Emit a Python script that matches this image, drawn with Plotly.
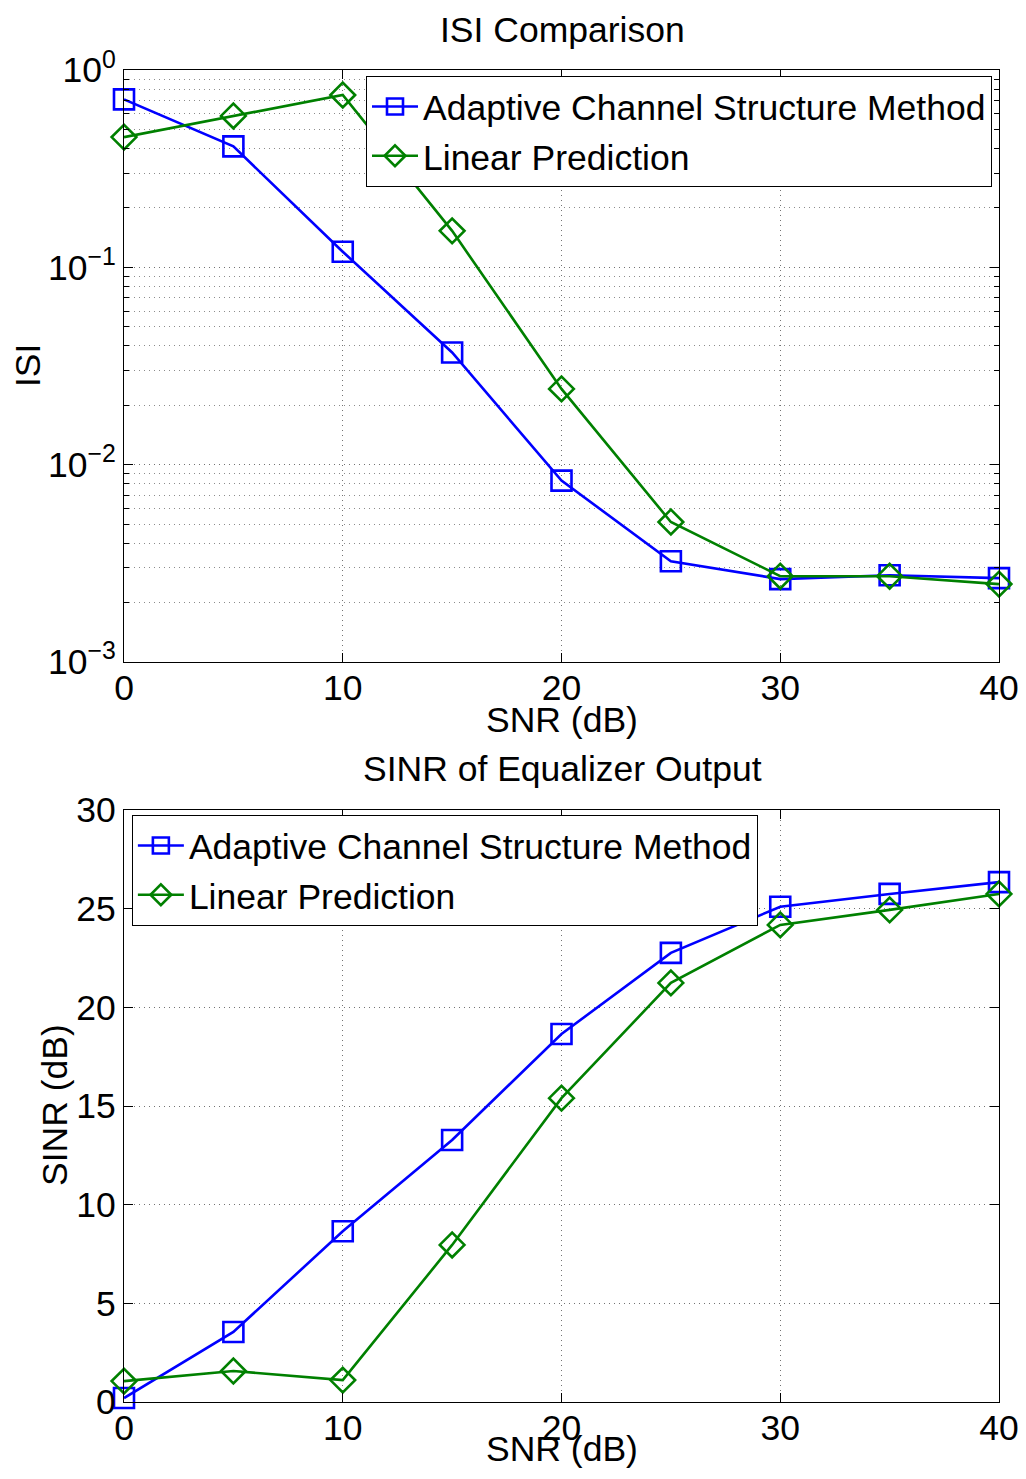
import plotly.graph_objects as go

snr = [0, 5, 10, 15, 20, 25, 30, 35, 40]

isi_acsm = [0.71, 0.41, 0.12, 0.037, 0.0083, 0.00324, 0.00263, 0.00275, 0.00266]
isi_lp = [0.457, 0.585, 0.747, 0.153, 0.0242, 0.00512, 0.00272, 0.00272, 0.00248]

sinr_acsm = [0.2, 3.55, 8.65, 13.28, 18.65, 22.76, 25.1, 25.75, 26.35]
sinr_lp = [1.06, 1.57, 1.11, 7.96, 15.4, 21.24, 24.18, 24.94, 25.75]

names = ["Adaptive Channel Structure Method", "Linear Prediction"]
x_ticks = [0, 10, 20, 30, 40]
isi_tickvals = [1e-3, 1e-2, 1e-1, 1]
isi_ticktext = ["10<sup>−3</sup>", "10<sup>−2</sup>", "10<sup>−1</sup>", "10<sup>0</sup>"]
isi_minor = [m * 10 ** e for e in (-3, -2, -1) for m in range(2, 10)]
sinr_ticks = [0, 5, 10, 15, 20, 25, 30]

FONT = "Liberation Sans, Arial, Helvetica, sans-serif"
FS = 35.5
BLUE = "#0000FF"
GREEN = "#008000"

# page body adds an 8px margin; keep the figure inside the window without scrollbars
OFF = 8
W, H = 1010, 1460
PLOT_L, PLOT_R = 124, 999      # page px
PLOT_T = 70
PLOT_H = 1332

fig = go.Figure()

def add_pair(y1, y2, xa, ya, legend):
    fig.add_trace(go.Scatter(
        x=snr, y=y1, name=names[0], mode="lines+markers",
        line=dict(color=BLUE, width=2.6),
        marker=dict(symbol="square-open", size=20, color=BLUE, line=dict(width=2.6, color=BLUE)),
        xaxis=xa, yaxis=ya, legend=legend, cliponaxis=False))
    fig.add_trace(go.Scatter(
        x=snr, y=y2, name=names[1], mode="lines+markers",
        line=dict(color=GREEN, width=2.6),
        marker=dict(symbol="diamond-open", size=19, color=GREEN, line=dict(width=2.6, color=GREEN)),
        xaxis=xa, yaxis=ya, legend=legend, cliponaxis=False))

add_pair(isi_acsm, isi_lp, "x", "y", "legend")
add_pair(sinr_acsm, sinr_lp, "x2", "y2", "legend2")

grid = dict(showgrid=True, gridcolor="rgba(0,0,0,0.55)", gridwidth=1, griddash="1px,4px")
axis_common = dict(showline=True, linecolor="black", linewidth=1.3, mirror="ticks",
                   ticks="inside", ticklen=9, tickcolor="black", zeroline=False, automargin=False,
                   ticklabeloverflow="allow",
                   tickfont=dict(family=FONT, size=FS, color="black"), **grid)

fig.update_layout(
    width=W, height=H,
    margin=dict(l=PLOT_L - OFF, r=W - (PLOT_R - OFF), t=PLOT_T - OFF, b=H - (PLOT_T - OFF) - PLOT_H),
    paper_bgcolor="white", plot_bgcolor="white",
    font=dict(family=FONT, size=FS, color="black"),
    xaxis=dict(domain=[0, 1], anchor="y", range=[0, 40], tickmode="array", tickvals=x_ticks,
               ticklabelstandoff=-6, **axis_common),
    yaxis=dict(domain=[0.5556, 1], anchor="x", type="log", range=[-3, 0], tickmode="array",
               tickvals=isi_tickvals, ticktext=isi_ticktext,
               minor=dict(tickmode="array", tickvals=isi_minor, ticks="inside", ticklen=5,
                          tickcolor="black", showgrid=True, gridcolor="rgba(0,0,0,0.45)",
                          griddash="1px,4px", gridwidth=1),
               **axis_common),
    xaxis2=dict(domain=[0, 1], anchor="y2", range=[0, 40], tickmode="array", tickvals=x_ticks,
                ticklabelstandoff=-6, **axis_common),
    yaxis2=dict(domain=[0, 0.4444], anchor="x2", range=[0, 30], tickmode="array", tickvals=sinr_ticks, **axis_common),
    legend=dict(x=0.992, y=0.9955, xanchor="right", yanchor="top", bgcolor="white",
                bordercolor="black", borderwidth=1, font=dict(family=FONT, size=FS),
                itemwidth=46, tracegroupgap=0),
    legend2=dict(x=0.009, y=0.4407, xanchor="left", yanchor="top", bgcolor="white",
                 bordercolor="black", borderwidth=1, font=dict(family=FONT, size=FS),
                 itemwidth=46, tracegroupgap=0),
    showlegend=True,
)

def ann(text, x, y, angle=0):
    fig.add_annotation(text=text, xref="paper", yref="paper", x=x, y=y,
                       xanchor="center", yanchor="middle", showarrow=False, textangle=angle,
                       font=dict(family=FONT, size=FS, color="black"))

def py(px):
    return 1 - (px - PLOT_T) / PLOT_H

def px_x(px):
    return (px - PLOT_L) / (PLOT_R - PLOT_L)

ann("ISI Comparison", px_x(562), py(30))
ann("SNR (dB)", px_x(562), py(720))
ann("ISI", px_x(28), py(366), -90)
ann("SINR of Equalizer Output", px_x(562), py(769))
ann("SNR (dB)", px_x(562), py(1449))
ann("SINR (dB)", px_x(55), py(1105), -90)

fig.write_html("out.html")
